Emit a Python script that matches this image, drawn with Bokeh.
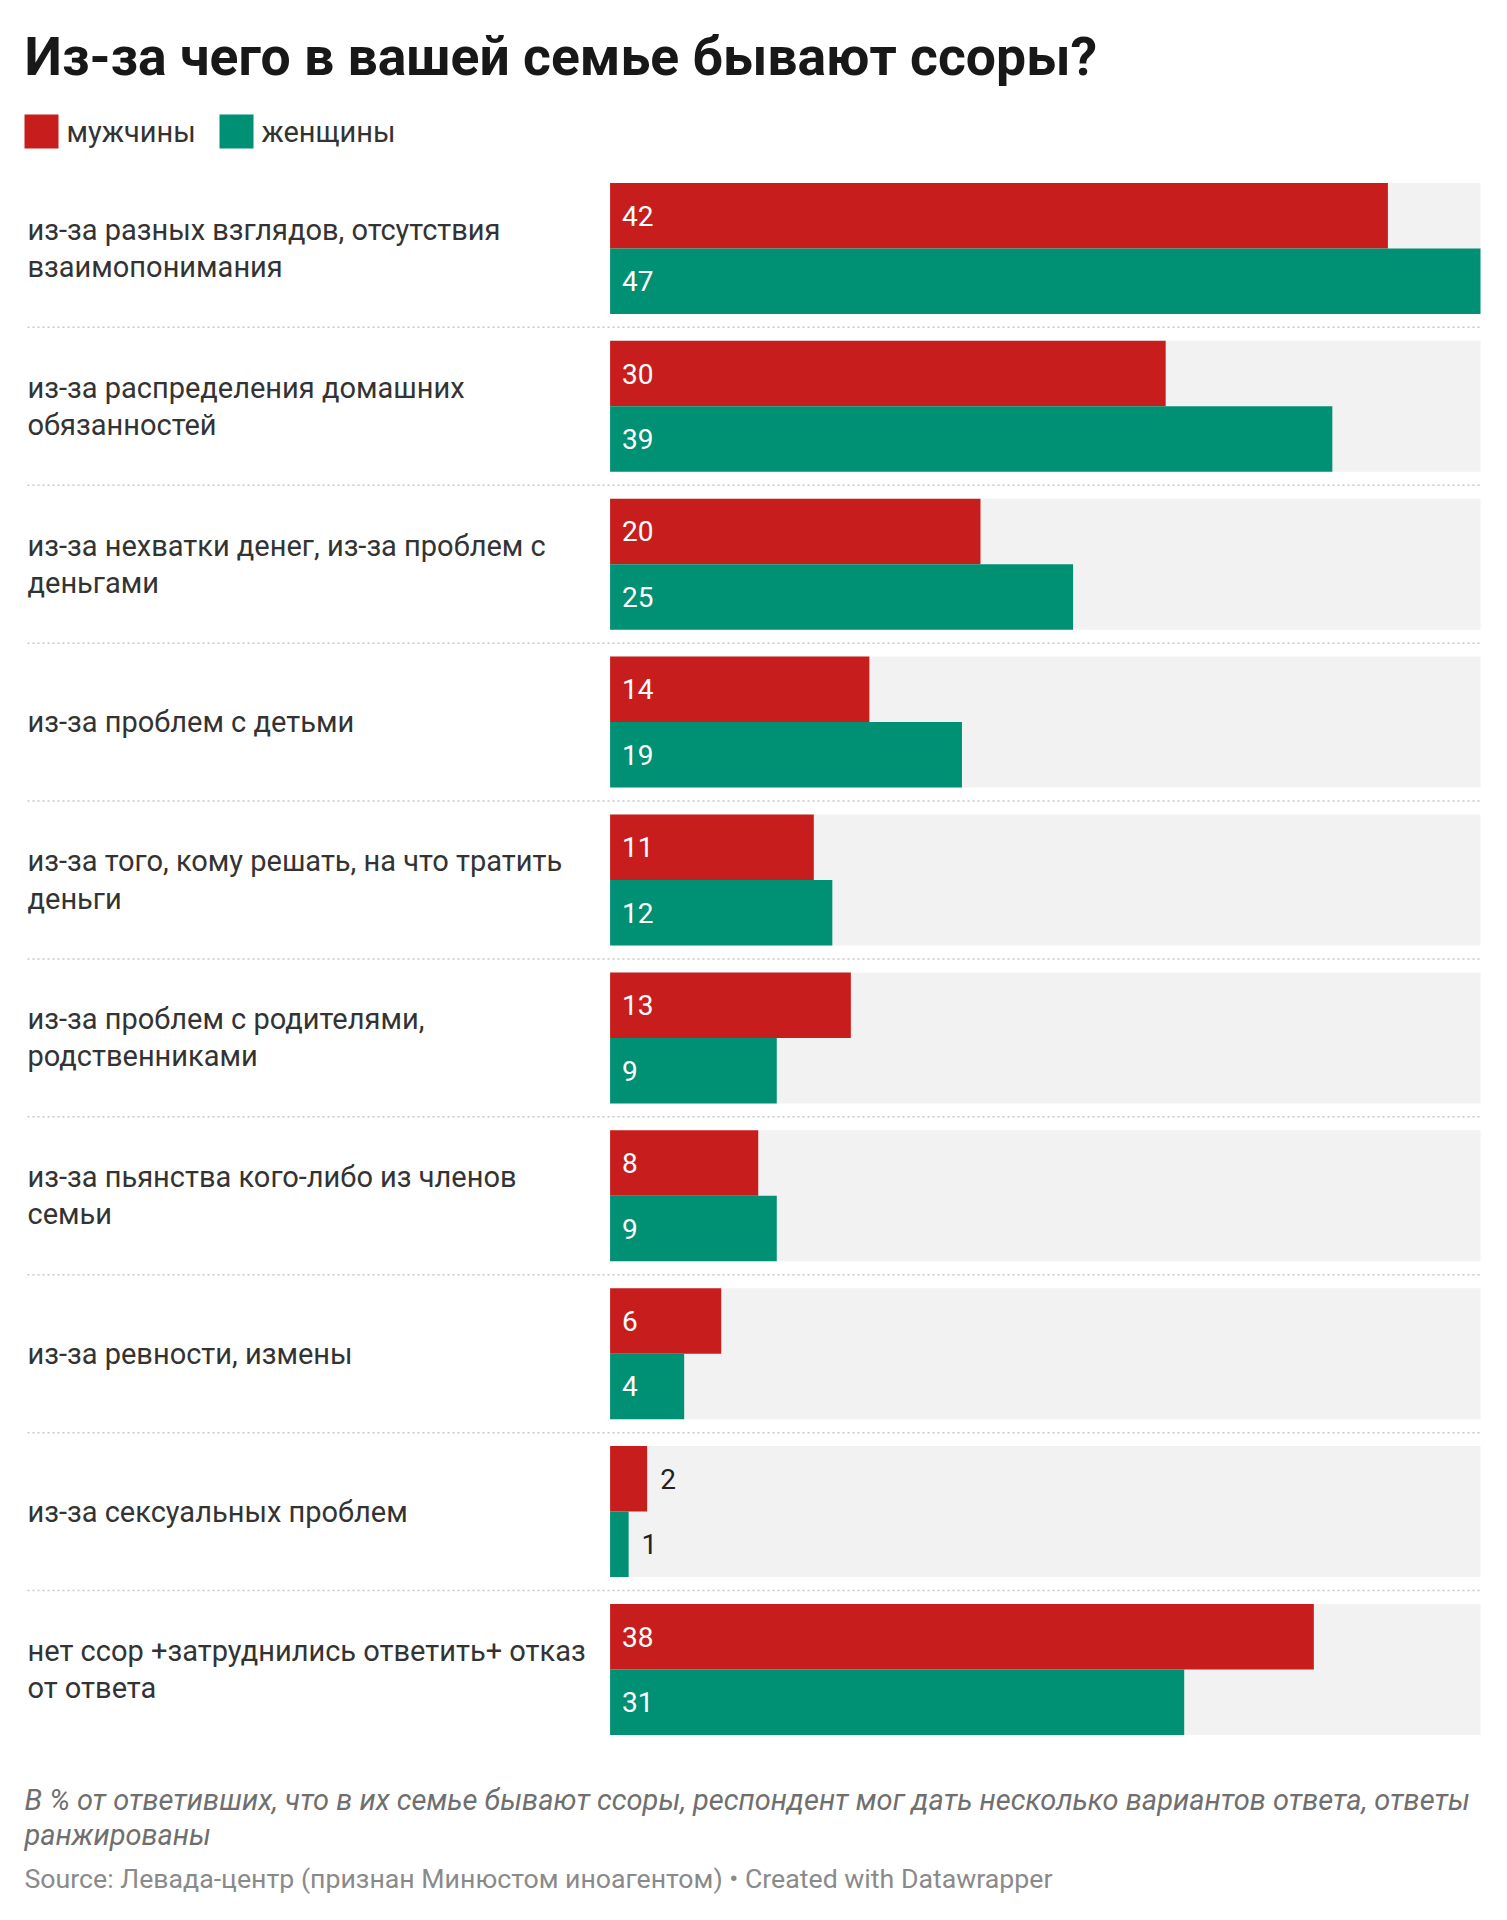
from bokeh.plotting import figure
from bokeh.models import Range1d
from bokeh.core.properties import value
from bokeh.embed import file_html
from bokeh.resources import INLINE
import numpy as np

title = "Из-за чего в вашей семье бывают ссоры?"
series_names = ["мужчины", "женщины"]
categories = [
    "из-за разных взглядов, отсутствия\nвзаимопонимания",
    "из-за распределения домашних\nобязанностей",
    "из-за нехватки денег, из-за проблем с\nденьгами",
    "из-за проблем с детьми",
    "из-за того, кому решать, на что тратить\nденьги",
    "из-за проблем с родителями,\nродственниками",
    "из-за пьянства кого-либо из членов\nсемьи",
    "из-за ревности, измены",
    "из-за сексуальных проблем",
    "нет ссор +затруднились ответить+ отказ\nот ответа",
]
men = [42, 30, 20, 14, 11, 13, 8, 6, 2, 38]
women = [47, 39, 25, 19, 12, 9, 9, 4, 1, 31]
note = ("В % от ответивших, что в их семье бывают ссоры, респондент мог дать несколько вариантов ответа, ответы\n"
        "ранжированы")
source = "Source: Левада-центр (признан Минюстом иноагентом) • Created with Datawrapper"

RED = "#c71e1d"
GREEN = "#009073"
BG = "#f2f2f2"
FONT = "Roboto"

W, H = 1507, 1920
BAR_X0 = 609.6
BAR_X1 = 1480.0
vmax = max(max(men), max(women))
scale = (BAR_X1 - BAR_X0) / vmax


def px(xp):
    return (xp - BAR_X0) / scale


ROW_TOP0 = 182.4
ROW_PITCH = 157.9
BAR_H = 65.5

p = figure(width=W, height=H, x_range=Range1d(px(0), px(W)), y_range=Range1d(H, 0),
           output_backend="svg", toolbar_location=None, min_border=0,
           x_axis_type=None, y_axis_type=None, outline_line_color=None,
           background_fill_color="white", border_fill_color="white")
p.grid.visible = False

n = len(categories)
idx = np.arange(n)
row_top = ROW_TOP0 + idx * ROW_PITCH
y_m = row_top + BAR_H / 2
y_w = row_top + BAR_H * 1.5
y_c = row_top + BAR_H

# background tracks
p.hbar(y=y_c, left=0, right=vmax, height=BAR_H * 2, fill_color=BG, line_color=None)
# bars
p.hbar(y=y_m, left=0, right=men, height=BAR_H, fill_color=RED, line_color=None)
p.hbar(y=y_w, left=0, right=women, height=BAR_H, fill_color=GREEN, line_color=None)

# separators
for i in range(n - 1):
    ys = row_top[i] + 2 * BAR_H + (ROW_PITCH - 2 * BAR_H) / 2
    p.line([px(27), px(1480)], [ys, ys], line_color="#c8c8c8", line_width=1.5, line_dash="2 3")

# category labels
p.text(x=[px(27)] * n, y=y_c, text=categories, text_font=value(FONT), text_font_size="29px",
       text_color="#333333", text_baseline="middle", text_align="left", text_line_height=1.09)


# value labels
def vlabels(vals, ys):
    xin, yin, tin, xout, yout, tout = [], [], [], [], [], []
    for v, y in zip(vals, ys):
        if v * scale > 45:
            xin.append(px(BAR_X0 + 12)); yin.append(y); tin.append(str(v))
        else:
            xout.append(v + px(BAR_X0 + 13)); yout.append(y); tout.append(str(v))
    p.text(x=xin, y=yin, text=tin, text_font=value(FONT), text_font_size="28px",
           text_color="white", text_baseline="middle", text_align="left")
    p.text(x=xout, y=yout, text=tout, text_font=value(FONT), text_font_size="28px",
           text_color="#222222", text_baseline="middle", text_align="left")


vlabels(men, y_m)
vlabels(women, y_w)

# title
p.text(x=[px(24)], y=[56], text=[title], text_font=value(FONT), text_font_size="53.5px",
       text_font_style="bold", text_color="#181818", text_baseline="middle", text_align="left")

# legend
p.rect(x=[px(41), px(236)], y=[131, 131], width=34, height=34, width_units="screen",
       height_units="screen", fill_color=[RED, GREEN], line_color=None)
p.text(x=[px(66), px(261)], y=[131, 131], text=series_names, text_font=value(FONT),
       text_font_size="29px", text_color="#333333", text_baseline="middle", text_align="left")

# notes
p.text(x=[px(24)], y=[1817], text=[note], text_font=value(FONT), text_font_size="29px",
       text_font_style="italic", text_color="#6f6f6f", text_baseline="middle", text_align="left",
       text_line_height=1.02)
p.text(x=[px(24)], y=[1878], text=[source], text_font=value(FONT), text_font_size="26.7px",
       text_color="#8a8a8a", text_baseline="middle", text_align="left")

open("out.html", "w").write(file_html(p, INLINE))
